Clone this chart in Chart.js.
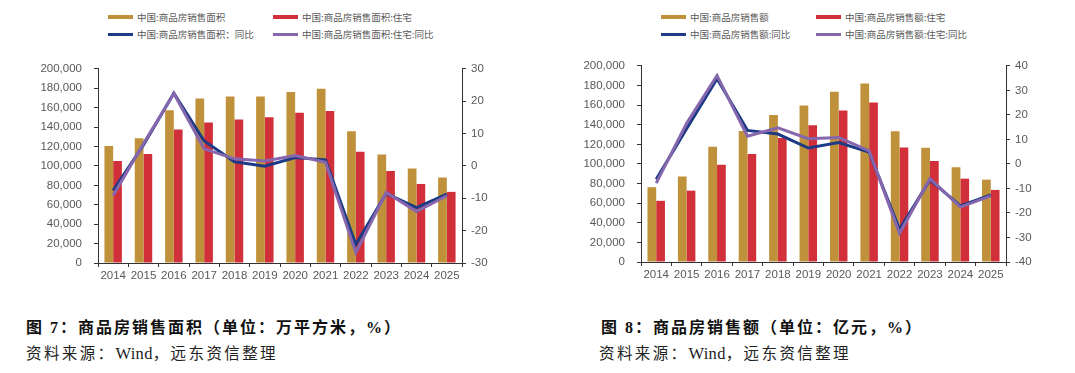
<!DOCTYPE html>
<html>
<head>
<meta charset="utf-8">
<script src="https://cdn.jsdelivr.net/npm/chart.js@4.4.1/dist/chart.umd.min.js"></script>
<style>
  html, body { margin:0; padding:0; background:#fff; }
  body { width:1075px; height:373px; position:relative; overflow:hidden; }
  .cv { position:absolute; }
  .lg { position:absolute; font-family:"Noto Sans CJK SC", sans-serif; font-size:9.5px; color:#595959; white-space:nowrap; line-height:12px; }
  .lg .sw { display:inline-block; width:25px; vertical-align:middle; margin-right:4px; position:relative; top:-1px; }
  .cap { position:absolute; font-family:"Liberation Serif","Noto Sans CJK SC",serif; white-space:nowrap; color:#111; }
  .ttl { font-weight:bold; font-size:16px; letter-spacing:2px; }
  .src { font-size:15.5px; letter-spacing:2.4px; color:#222; }
  .src .lat { letter-spacing:0.3px; font-size:16.5px; }
</style>
</head>
<body>
<div class="cv" style="left:0;top:50px;width:500px;height:240px;"><canvas id="c1"></canvas></div>
<div class="cv" style="left:540px;top:47px;width:505px;height:242px;"><canvas id="c2"></canvas></div>
<div id="lg1"></div>
<div id="lg2"></div>
<div class="cap ttl" style="left:26px;top:314px;">图 7：商品房销售面积（单位：万平方米，%）</div>
<div class="cap src" style="left:26px;top:341px;">资料来源：<span class="lat">Wind</span>，远东资信整理</div>
<div class="cap ttl" style="left:601px;top:314px;">图 8：商品房销售额（单位：亿元，%）</div>
<div class="cap src" style="left:599px;top:341px;">资料来源：<span class="lat">Wind</span>，远东资信整理</div>
<script>
// ---- data ----
const years = ['2014','2015','2016','2017','2018','2019','2020','2021','2022','2023','2024','2025'];

const areaLabels = ['中国:商品房销售面积','中国:商品房销售面积:住宅','中国:商品房销售面积：同比','中国:商品房销售面积:住宅:同比'];
const areaTotal = [120649,128495,157349,169408,171654,171558,176086,179433,135837,111735,97385,88101];
const areaResi  = [105188,112412,137540,144789,147929,150144,154878,156532,114631,94796,81450,73300];
const areaTotalYoY = [-7.6,6.5,22.5,7.7,1.3,-0.1,2.6,1.9,-24.3,-8.5,-12.9,-8.7];
const areaResiYoY  = [-9.1,6.9,22.4,5.3,2.2,1.5,3.2,1.1,-26.8,-8.2,-14.1,-9.2];

const salesLabels = ['中国:商品房销售额','中国:商品房销售额:住宅','中国:商品房销售额:同比','中国:商品房销售额:住宅:同比'];
const salesTotal = [76292,87281,117627,133701,149973,159725,173613,181930,133308,116622,96750,84000];
const salesResi  = [62411,72770,99064,110240,126393,139440,154567,162730,116747,103000,85000,73500];
const salesTotalYoY = [-6.3,14.4,34.8,13.7,12.2,6.5,8.7,4.8,-26.7,-6.5,-17.1,-12.6];
const salesResiYoY  = [-7.8,16.6,36.1,11.3,14.7,10.3,10.8,5.3,-28.3,-6.0,-17.6,-13.0];

const leftTicks1 = {min:0, max:200000, step:20000};
const rightTicks1 = {min:-30, max:30, step:10};
const leftTicks2 = {min:0, max:200000, step:20000};
const rightTicks2 = {min:-40, max:40, step:10};

// ---- styles ----
const GOLD = '#C0913B', RED = '#D1303A', BLUE = '#1C3A86', PURPLE = '#8667AE';
const AX = '#333333', TXT = '#595959';

function makeChart(id, labels, bar1, bar2, l1, l2, lt, rt, leftW, rightW) {
  const tickFont = {family:'"Liberation Sans", sans-serif', size:11.5};
  const gridCfg = {display:true, drawOnChartArea:false, drawTicks:true, tickLength:4, color:AX, lineWidth:1};
  return new Chart(document.getElementById(id), {
    data: {
      labels: years,
      datasets: [
        {type:'bar', label:labels[0], data:bar1, backgroundColor:GOLD, yAxisID:'y', order:2,
         barPercentage:1.0, categoryPercentage:0.575},
        {type:'bar', label:labels[1], data:bar2, backgroundColor:RED, yAxisID:'y', order:3,
         barPercentage:1.0, categoryPercentage:0.575},
        {type:'line', label:labels[2], data:l1, borderColor:BLUE, borderWidth:3, pointRadius:0, tension:0, yAxisID:'y1', order:1},
        {type:'line', label:labels[3], data:l2, borderColor:PURPLE, borderWidth:3, pointRadius:0, tension:0, yAxisID:'y1', order:0}
      ]
    },
    options: {
      responsive:true, maintainAspectRatio:false, animation:false,
      layout:{padding:{top:7, left:0, right:0, bottom:0}},
      plugins:{legend:{display:false}, tooltip:{enabled:false}},
      scales:{
        x:{grid:{...gridCfg, offset:true}, border:{display:true, color:AX, width:1},
           ticks:{color:TXT, font:tickFont, padding:2, maxRotation:0, autoSkip:false},
           afterFit(s){ s.height = 27; }},
        y:{position:'left', min:lt.min, max:lt.max, grid:gridCfg, border:{display:true,color:AX,width:1},
           ticks:{stepSize:lt.step, color:TXT, font:tickFont, padding:12,
                  callback:v=>v.toLocaleString('en-US')},
           afterFit(s){ s.width = leftW; }},
        y1:{position:'right', min:rt.min, max:rt.max, grid:gridCfg, border:{display:true,color:AX,width:1},
           ticks:{stepSize:rt.step, color:TXT, font:tickFont, padding:5},
           afterFit(s){ s.width = rightW; }}
      }
    }
  });
}

function makeLegend(elId, chart, col1, col2, row1, row2) {
  const el = document.getElementById(elId);
  const pos = [[col1,row1],[col2,row1],[col1,row2],[col2,row2]];
  chart.data.datasets.forEach((ds,i)=>{
    const d = document.createElement('div');
    d.className = 'lg';
    d.style.left = pos[i][0] + 'px';
    d.style.top = (pos[i][1] - 6) + 'px';
    const sw = document.createElement('span');
    sw.className = 'sw';
    const isBar = ds.type === 'bar';
    sw.style.height = isBar ? '4px' : '3px';
    sw.style.background = isBar ? ds.backgroundColor : ds.borderColor;
    d.appendChild(sw);
    d.appendChild(document.createTextNode(ds.label));
    el.appendChild(d);
  });
}

const ch1 = makeChart('c1', areaLabels, areaTotal, areaResi, areaTotalYoY, areaResiYoY, leftTicks1, rightTicks1, 98, 38);
const ch2 = makeChart('c2', salesLabels, salesTotal, salesResi, salesTotalYoY, salesResiYoY, leftTicks2, rightTicks2, 101, 39);
makeLegend('lg1', ch1, 108, 273, 17, 34);
makeLegend('lg2', ch2, 661, 816, 17, 34);
</script>
</body>
</html>
